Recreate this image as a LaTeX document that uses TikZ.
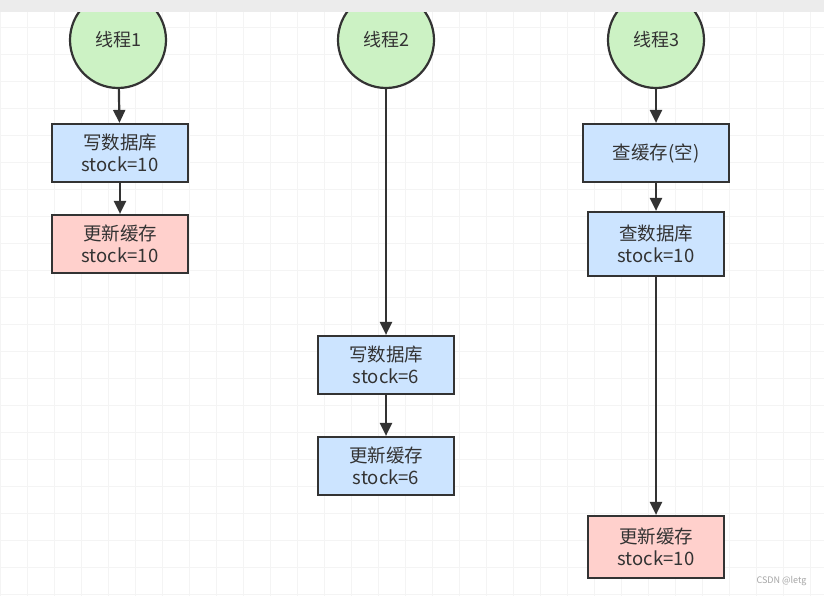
\documentclass[tikz,border=0pt]{standalone}
\usepackage{fontspec}
\setmainfont{Noto Sans CJK SC}
\usetikzlibrary{arrows.meta}

\definecolor{threadgreen}{HTML}{CCF2C4}
\definecolor{dbblue}{HTML}{CCE4FF}
\definecolor{cachered}{HTML}{FFD0CC}
\definecolor{linegray}{HTML}{333333}

\tikzset{
  thread/.style={circle, draw=linegray, line width=2.2pt, fill=threadgreen,
    minimum size=96pt, inner sep=0pt, text=linegray, font=\fontsize{18}{21}\selectfont},
  stepbox/.style={rectangle, draw=linegray, line width=2.2pt, fill=dbblue,
    minimum width=136pt, minimum height=58pt, align=center, inner sep=2pt,
    text=linegray, font=\fontsize{18.5}{22}\selectfont},
  cachebox/.style={stepbox, fill=cachered},
  flow/.style={draw=linegray, line width=2.2pt, -{Triangle[length=13pt,width=12pt]}}
}

\begin{document}
\begin{tikzpicture}[x=1pt,y=-1pt]
  \useasboundingbox (0,0) rectangle (824,596);
  \fill[white] (0,0) rectangle (824,596);
  % faint grid
  \draw[gray!9, line width=0.7pt, step=27pt] (0,12) grid (824,596);

  \begin{scope}
    \clip (0,12) rectangle (824,596);
    % threads
    \node[thread] (t1) at (118, 40) {线程1};
    \node[thread] (t2) at (386, 40) {线程2};
    \node[thread] (t3) at (656, 40) {线程3};
  \end{scope}
  \fill[gray!15] (0,0) rectangle (824,12);

  % thread 1
  \node[stepbox] (w1) at (120, 153) {写数据库\\stock=10};
  \node[cachebox] (c1) at (120, 244) {更新缓存\\stock=10};

  % thread 2
  \node[stepbox] (w2) at (386, 365) {写数据库\\stock=6};
  \node[stepbox] (c2) at (386, 466) {更新缓存\\stock=6};

  % thread 3
  \node[stepbox, minimum width=146pt] (q3) at (656, 153) {查缓存(空)};
  \node[stepbox, minimum height=64pt] (d3) at (656, 244) {查数据库\\stock=10};
  \node[cachebox, minimum height=62pt] (c3) at (656, 547) {更新缓存\\stock=10};

  \draw[flow] (t1) -- (w1);
  \draw[flow] (w1) -- (c1);
  \draw[flow] (t2) -- (w2);
  \draw[flow] (w2) -- (c2);
  \draw[flow] (t3) -- (q3);
  \draw[flow] (q3) -- (d3);
  \draw[flow] (d3) -- (c3);

  \node[text=gray!70, font=\fontsize{9}{10}\selectfont, anchor=east] (mark) at (810, 581) {CSDN @letg};
\end{tikzpicture}
\end{document}
